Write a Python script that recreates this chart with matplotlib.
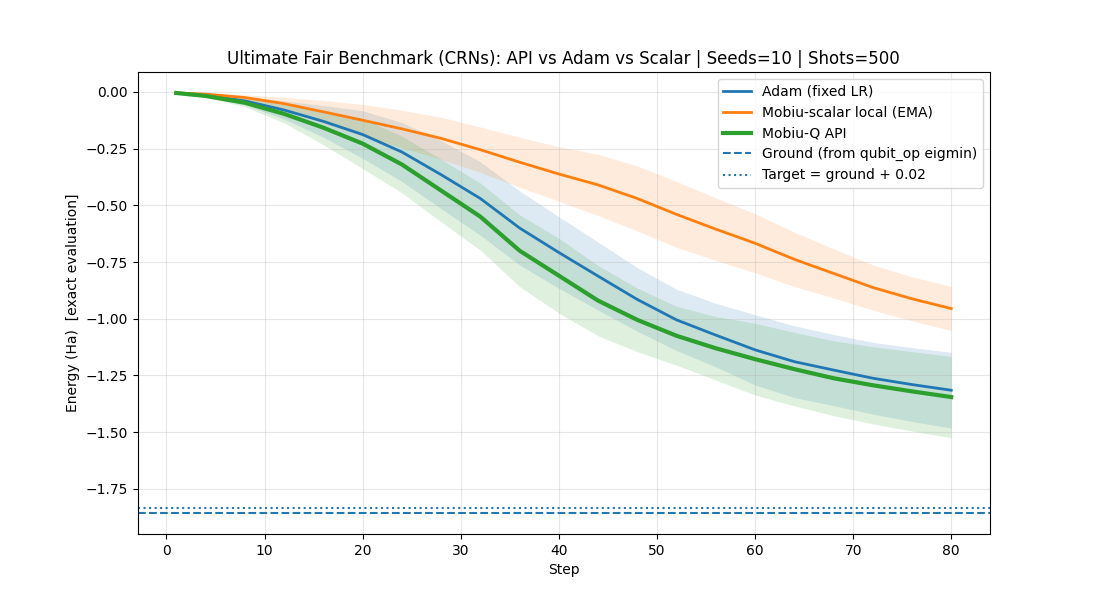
import numpy as np
import matplotlib.pyplot as plt

steps = [1, 4, 8, 12, 16, 20, 24, 28, 32, 36, 40, 44, 48, 52, 56, 60, 64, 68, 72, 76, 80]

adam_mean = [-0.005, -0.014, -0.040, -0.080, -0.130, -0.188, -0.265, -0.365, -0.470, -0.600,
             -0.708, -0.812, -0.915, -1.005, -1.072, -1.137, -1.189, -1.226, -1.262, -1.290, -1.315]
adam_std = [0.0, 0.005, 0.018, 0.040, 0.070, 0.105, 0.130, 0.150, 0.162, 0.163,
            0.158, 0.150, 0.140, 0.135, 0.140, 0.155, 0.158, 0.157, 0.158, 0.163, 0.167]

scalar_mean = [-0.005, -0.010, -0.025, -0.052, -0.088, -0.125, -0.163, -0.205, -0.255, -0.310,
               -0.362, -0.410, -0.470, -0.540, -0.605, -0.667, -0.738, -0.800, -0.862, -0.912, -0.955]
scalar_std = [0.0, 0.004, 0.012, 0.028, 0.050, 0.070, 0.082, 0.093, 0.100, 0.110,
              0.120, 0.135, 0.143, 0.145, 0.138, 0.130, 0.120, 0.108, 0.100, 0.097, 0.097]

api_mean = [-0.005, -0.018, -0.048, -0.097, -0.158, -0.228, -0.320, -0.435, -0.550, -0.700,
            -0.810, -0.920, -1.005, -1.075, -1.130, -1.178, -1.222, -1.262, -1.293, -1.320, -1.345]
api_std = [0.0, 0.006, 0.018, 0.040, 0.075, 0.110, 0.125, 0.138, 0.148, 0.158,
           0.165, 0.155, 0.140, 0.130, 0.140, 0.158, 0.162, 0.165, 0.170, 0.175, 0.179]

ground = -1.856
target = ground + 0.02

x = np.array(steps)
series = [
    ("Adam (fixed LR)", adam_mean, adam_std, "C0", 2),
    ("Mobiu-scalar local (EMA)", scalar_mean, scalar_std, "C1", 2),
    ("Mobiu-Q API", api_mean, api_std, "C2", 3),
]

plt.figure(figsize=(11, 6))
for label, m, s, c, lw in series:
    m = np.array(m)
    s = np.array(s)
    plt.plot(x, m, color=c, linewidth=lw, label=label)
    plt.fill_between(x, m - s, m + s, color=c, alpha=0.15, linewidth=0)

plt.axhline(ground, color="C0", linestyle="--", linewidth=1.5, label="Ground (from qubit_op eigmin)")
plt.axhline(target, color="C0", linestyle=":", linewidth=1.5, label="Target = ground + 0.02")

plt.title("Ultimate Fair Benchmark (CRNs): API vs Adam vs Scalar | Seeds=10 | Shots=500")
plt.xlabel("Step")
plt.ylabel("Energy (Ha)  [exact evaluation]")
plt.grid(True, alpha=0.3)
plt.legend(loc="upper right")
plt.savefig("out.png", dpi=100)
